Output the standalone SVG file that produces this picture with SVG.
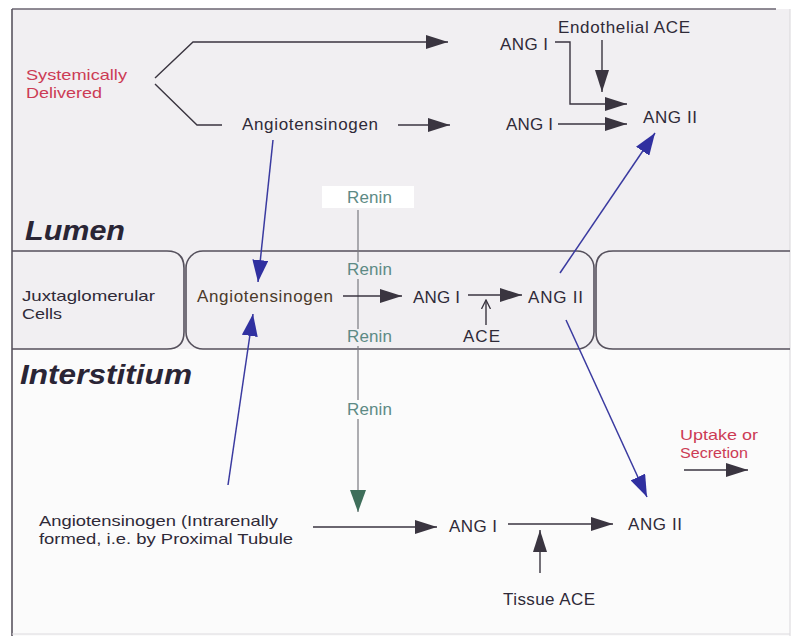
<svg xmlns="http://www.w3.org/2000/svg" width="793" height="640" viewBox="0 0 793 640">
<defs>
<style>
text{font-family:"Liberation Sans",Arial,sans-serif;font-size:17px;fill:#2f2a38}
.two{font-size:15px}
.red{fill:#cc3b55}
.ren{fill:#5d8a85}
.brown{fill:#4b3a2a}
.big{font-size:28px;font-weight:bold;font-style:italic;fill:#2a2535}
.k{stroke:#3a3540;stroke-width:1.4;fill:none}
.b{stroke:#3a3aa0;stroke-width:1.5;fill:none}
.g{stroke:#7a7a80;stroke-width:1.2;fill:none}
.cell{stroke:#55505c;stroke-width:1.6;fill:none}
</style>
<marker id="ak" markerUnits="userSpaceOnUse" markerWidth="22" markerHeight="14" refX="22" refY="7" orient="auto"><path d="M0,0 L22,7 L0,14 z" fill="#3a3540"/></marker>
<marker id="ab" markerUnits="userSpaceOnUse" markerWidth="22" markerHeight="16" refX="22" refY="8" orient="auto"><path d="M0,0 L22,8 L0,16 z" fill="#3030a0"/></marker>
<marker id="ag" markerUnits="userSpaceOnUse" markerWidth="22" markerHeight="16" refX="22" refY="8" orient="auto"><path d="M0,0 L22,8 L0,16 z" fill="#3e6e5a"/></marker>
<marker id="as" markerUnits="userSpaceOnUse" markerWidth="10" markerHeight="10" refX="9" refY="5" orient="auto"><path d="M0,0.5 L9,5 L0,9.5" fill="none" stroke="#3a3540" stroke-width="1.3"/></marker>
</defs>

<rect x="0" y="0" width="793" height="640" fill="#ffffff"/>
<rect x="12" y="9" width="778" height="340" fill="#f1eff2"/>
<rect x="12" y="349" width="778" height="287" fill="#fbfbfb"/>

<g id="frame">
<line x1="12" y1="9" x2="776" y2="9" stroke="#6a6470" stroke-width="1.5"/>
<line x1="12" y1="9" x2="12" y2="636" stroke="#5a5560" stroke-width="1.6"/>
<line x1="790" y1="9" x2="790" y2="636" stroke="#d8d6da" stroke-width="1"/>
<line x1="12" y1="634" x2="790" y2="634" stroke="#dcdade" stroke-width="1"/>
</g>

<g id="cells">
<path class="cell" d="M12,251 H167 Q184,251 184,268 V332 Q184,349 167,349 H12"/>
<rect class="cell" x="186" y="251" width="408" height="98" rx="17"/>
<path class="cell" d="M790,251 H613 Q596,251 596,268 V332 Q596,349 613,349 H790"/>
</g>

<g id="renin-box"><rect x="322" y="186" width="92" height="22" fill="#ffffff"/><text x="347" y="203" class="ren" textLength="45" lengthAdjust="spacing">Renin</text></g>

<g id="connectors">
<path class="k" d="M155,78 L193,42 H448" marker-end="url(#ak)"/>
<path class="k" d="M155,84 L197,125 H222"/>
<line class="k" x1="398" y1="125" x2="450" y2="125" marker-end="url(#ak)"/>
<path class="k" d="M555,42 H570 V104 H627" marker-end="url(#ak)"/>
<line class="k" x1="602" y1="40" x2="602" y2="92" marker-end="url(#ak)"/>
<line class="k" x1="558" y1="124" x2="627" y2="124" marker-end="url(#ak)"/>
<line class="b" x1="560" y1="273" x2="655" y2="133" marker-end="url(#ab)"/>
<line class="b" x1="273" y1="140" x2="258" y2="282" marker-end="url(#ab)"/>
<line class="b" x1="228" y1="485" x2="253" y2="314" marker-end="url(#ab)"/>
<line class="b" x1="566" y1="320" x2="647" y2="497" marker-end="url(#ab)"/>
<path class="g" d="M358,210 V262 M358,279 V329 M358,346 V400"/>
<line class="g" x1="358" y1="419" x2="358" y2="512" marker-end="url(#ag)"/>
<line class="k" x1="343" y1="296" x2="402" y2="296" marker-end="url(#ak)"/>
<line class="k" x1="468" y1="295" x2="522" y2="295" marker-end="url(#ak)"/>
<line class="k" x1="486" y1="325" x2="486" y2="300" marker-end="url(#as)"/>
<line class="k" x1="684" y1="470" x2="748" y2="470" marker-end="url(#ak)"/>
<line class="k" x1="313" y1="527" x2="437" y2="527" marker-end="url(#ak)"/>
<line class="k" x1="508" y1="524" x2="613" y2="524" marker-end="url(#ak)"/>
<line class="k" x1="540" y1="573" x2="540" y2="530" marker-end="url(#ak)"/>
</g>

<g id="systemic"><text x="26" y="80" class="red two" textLength="101" lengthAdjust="spacingAndGlyphs">Systemically</text><text x="26" y="98" class="red two" textLength="76" lengthAdjust="spacingAndGlyphs">Delivered</text></g>
<g id="agt-lumen"><text x="242" y="130" textLength="136" lengthAdjust="spacing">Angiotensinogen</text></g>
<g id="ang1-top"><text x="500" y="50" textLength="48" lengthAdjust="spacing">ANG I</text></g>
<g id="endo-ace"><text x="558" y="33" textLength="132" lengthAdjust="spacing">Endothelial ACE</text></g>
<g id="ang1-lower"><text x="506" y="130" textLength="47" lengthAdjust="spacing">ANG I</text></g>
<g id="ang2-lumen"><text x="643" y="123" textLength="54" lengthAdjust="spacing">ANG II</text></g>

<g id="lumen"><text x="25" y="240" class="big" textLength="100" lengthAdjust="spacingAndGlyphs">Lumen</text></g>
<g id="interstitium"><text x="20" y="384" class="big" textLength="172" lengthAdjust="spacingAndGlyphs">Interstitium</text></g>

<g id="jg"><text x="22" y="301" class="two" textLength="133" lengthAdjust="spacingAndGlyphs">Juxtaglomerular</text><text x="22" y="319" class="two" textLength="40" lengthAdjust="spacingAndGlyphs">Cells</text></g>
<g id="agt-jg"><text x="197" y="302" class="brown" textLength="136" lengthAdjust="spacing">Angiotensinogen</text></g>
<g id="renin2"><text x="347" y="275" class="ren" textLength="45" lengthAdjust="spacing">Renin</text></g>
<g id="renin3"><text x="347" y="342" class="ren" textLength="45" lengthAdjust="spacing">Renin</text></g>
<g id="renin4"><text x="347" y="415" class="ren" textLength="45" lengthAdjust="spacing">Renin</text></g>
<g id="ang1-jg"><text x="413" y="303" textLength="47" lengthAdjust="spacing">ANG I</text></g>
<g id="ace-jg"><text x="463" y="342" textLength="37" lengthAdjust="spacing">ACE</text></g>
<g id="ang2-jg"><text x="528" y="303" textLength="55" lengthAdjust="spacing">ANG II</text></g>

<g id="uptake"><text x="680" y="440" class="red two" textLength="78" lengthAdjust="spacingAndGlyphs">Uptake or</text><text x="680" y="458" class="red two" textLength="68" lengthAdjust="spacingAndGlyphs">Secretion</text></g>
<g id="agt-intra"><text x="39" y="526" class="two" textLength="239" lengthAdjust="spacingAndGlyphs">Angiotensinogen (Intrarenally</text><text x="39" y="544" class="two" textLength="254" lengthAdjust="spacingAndGlyphs">formed, i.e. by Proximal Tubule</text></g>
<g id="ang1-int"><text x="449" y="532" textLength="48" lengthAdjust="spacing">ANG I</text></g>
<g id="ang2-int"><text x="628" y="530" textLength="54" lengthAdjust="spacing">ANG II</text></g>
<g id="tissue-ace"><text x="503" y="605" textLength="92" lengthAdjust="spacing">Tissue ACE</text></g>
</svg>
